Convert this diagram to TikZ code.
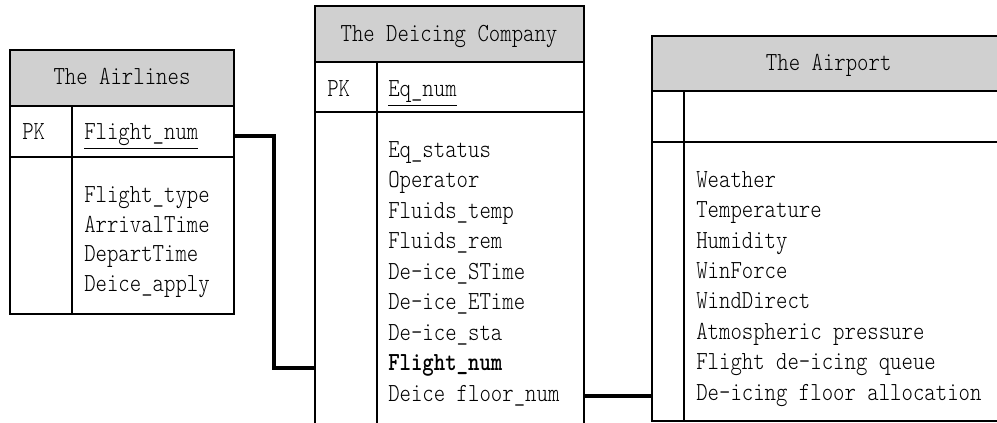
\documentclass[tikz,border=0pt]{standalone}
\usepackage{graphicx}

\definecolor{headgray}{RGB}{208,208,208}
\newsavebox{\entrybox}
\newcommand{\entryfont}{\ttfamily\fontseries{l}\fontsize{16.3}{20}\selectfont}

\begin{document}
\begin{tikzpicture}[
        x=0.75pt,
        y=-0.75pt,
        head/.style={
            fill=headgray,
            draw=black,
            line width=1.3pt,
        },
        frame/.style={
            draw=black,
            line width=1.3pt,
        },
        tall/.style={
            inner sep=0pt,
            font=\entryfont,
            execute at begin node={\setbox\entrybox=\hbox\bgroup},
            execute at end node={\egroup\scalebox{1}[1.2]{\usebox\entrybox}},
        },
        entry/.style={
            tall,
            anchor=base west,
        },
        title/.style={
            tall,
            anchor=base,
        },
        link/.style={
            draw=black,
            line width=2.4pt,
        },
    ]

    \useasboundingbox (0, 0) rectangle (997, 423);
    \clip (0, 0) rectangle (997, 423);

    \filldraw[head] (10, 50) rectangle (234, 106);
    \draw[frame] (10, 106) rectangle (234, 314);
    \draw[frame] (10, 157) -- (234, 157);
    \draw[frame] (72, 106) -- (72, 314);

    \filldraw[head] (315, 6) rectangle (584, 62);
    \draw[frame] (315, 62) rectangle (584, 430);
    \draw[frame] (315, 112) -- (584, 112);
    \draw[frame] (377, 62) -- (377, 430);

    \filldraw[head] (652, 36) rectangle (1004, 91);
    \draw[frame] (652, 91) rectangle (1004, 421);
    \draw[frame] (652, 142) -- (1004, 142);
    \draw[frame] (684, 91) -- (684, 421);

    \node[title] (airlines)  at (122, 85)   {The Airlines};
    \node[entry] (al-pk)     at (22, 140)   {PK};
    \node[entry] (al-key)    at (84, 140)   {\underline{Flight\_num}};
    \node[entry] (al-a1)     at (84, 202.3) {Flight\_type};
    \node[entry] (al-a2)     at (84, 232.1) {ArrivalTime};
    \node[entry] (al-a3)     at (84, 261.9) {DepartTime};
    \node[entry] (al-a4)     at (84, 291.7) {Deice\_apply};

    \node[title] (deicing)   at (449, 41.7) {The Deicing Company};
    \node[entry] (dc-pk)     at (327, 96.7) {PK};
    \node[entry] (dc-key)    at (388, 96.7) {\underline{Eq\_num}};
    \node[entry] (dc-a1)     at (388, 157.3) {Eq\_status};
    \node[entry] (dc-a2)     at (388, 187.8) {Operator};
    \node[entry] (dc-a3)     at (388, 218.3) {Fluids\_temp};
    \node[entry] (dc-a4)     at (388, 248.8) {Fluids\_rem};
    \node[entry] (dc-a5)     at (388, 279.3) {De-ice\_STime};
    \node[entry] (dc-a6)     at (388, 309.8) {De-ice\_ETime};
    \node[entry] (dc-a7)     at (388, 340.3) {De-ice\_sta};
    \node[entry] (dc-fk)     at (388, 370.8) {\fontseries{b}\selectfont Flight\_num};
    \node[entry] (dc-a8)     at (388, 401.3) {Deice floor\_num};

    \node[title] (airport)   at (828.7, 70.7) {The Airport};
    \node[entry] (ap-a1)     at (696, 187.3) {Weather};
    \node[entry] (ap-a2)     at (696, 217.7) {Temperature};
    \node[entry] (ap-a3)     at (696, 248.1) {Humidity};
    \node[entry] (ap-a4)     at (696, 278.5) {WinForce};
    \node[entry] (ap-a5)     at (696, 308.9) {WindDirect};
    \node[entry] (ap-a6)     at (696, 339.3) {Atmospheric pressure};
    \node[entry] (ap-a7)     at (696, 369.7) {Flight de-icing queue};
    \node[entry] (ap-a8)     at (696, 400.1) {De-icing floor allocation};

    \coordinate (al-out) at (234, 136);
    \coordinate (dc-in)  at (315, 368);
    \coordinate (dc-out) at (584, 396);
    \coordinate (ap-in)  at (652, 396);

    \draw[link] (al-out) -- ++(40, 0) |- (dc-in);
    \draw[link] (dc-out) -- (ap-in);

\end{tikzpicture}
\end{document}
